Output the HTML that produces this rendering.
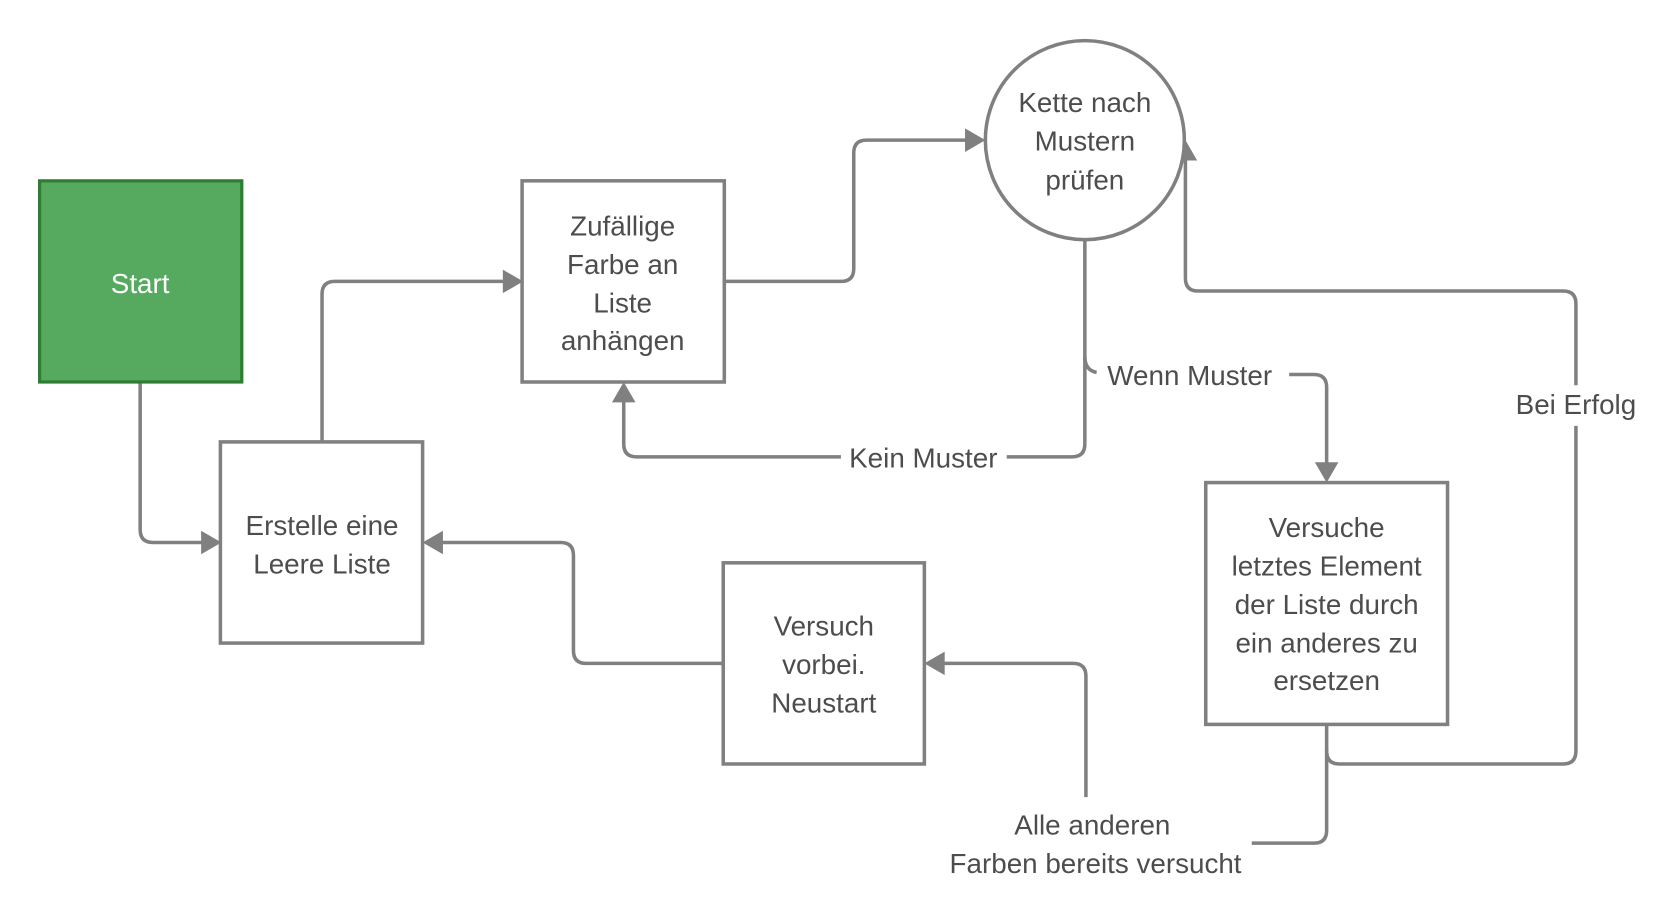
<!DOCTYPE html>
<html><head><meta charset="utf-8"><style>
html,body{margin:0;padding:0;background:#fff;}
svg{display:block;}
text{font-family:"Liberation Sans",sans-serif;font-size:26px;fill:#4d4d4d;text-anchor:middle;dominant-baseline:central;}
</style></head><body>
<svg width="1669" height="917" viewBox="0 0 1560 857" preserveAspectRatio="none" xmlns="http://www.w3.org/2000/svg">
<g fill="none" stroke="#808080" stroke-width="3.3" stroke-linejoin="round">
<path d="M131 357 V495 Q131 507 143 507 H190"/>
<path d="M301 413 V275 Q301 263 313 263 H472"/>
<path d="M677 263 H786 Q798 263 798 251 V143 Q798 131 810 131 H904"/>
<path d="M1014 225 V415 Q1014 427 1002 427 H941"/>
<path d="M786 427 H595 Q583 427 583 415 V374"/>
<path d="M1014 333 Q1014 346 1025 348"/>
<path d="M1205 350 H1228 Q1240 350 1240 362 V434"/>
<path d="M1240 677 V702 Q1240 714 1252 714 H1461 Q1473 714 1473 702 V398"/>
<path d="M1473 360 V284 Q1473 272 1461 272 H1120 Q1108 272 1108 260 V148"/>
<path d="M1240 700 V776 Q1240 788 1228 788 H1170"/>
<path d="M1015 745 V632 Q1015 620 1003 620 H881"/>
<path d="M676 620 H548 Q536 620 536 608 V519 Q536 507 524 507 H412"/>
</g>
<g fill="#808080">
<polygon points="207,507 188,496 188,518"/>
<polygon points="489,263 470,252 470,274"/>
<polygon points="921,131 902,120 902,142"/>
<polygon points="583,357 572,376 594,376"/>
<polygon points="1240,451 1229,432 1251,432"/>
<polygon points="1108,131 1097,150 1119,150"/>
<polygon points="864,620 883,609 883,631"/>
<polygon points="395,507 414,496 414,518"/>
</g>
<rect x="37" y="169" width="189" height="188" fill="#55aa60" stroke="#2e7d32" stroke-width="3"/>
<text x="131" y="265" style="fill:#fff">Start</text>
<g fill="#fff" stroke="#808080" stroke-width="3.3">
<rect x="206" y="413" width="189" height="188"/>
<rect x="488" y="169" width="189" height="188"/>
<circle cx="1014" cy="131" r="93"/>
<rect x="676" y="526" width="188" height="188"/>
<rect x="1127" y="451" width="226" height="226"/>
</g>
<text x="301" y="491">Erstelle eine</text><text x="301" y="527">Leere Liste</text>
<text x="582" y="211">Zufällige</text><text x="582" y="247">Farbe an</text><text x="582" y="283">Liste</text><text x="582" y="318">anhängen</text>
<text x="1014" y="96">Kette nach</text><text x="1014" y="132">Mustern</text><text x="1014" y="168">prüfen</text>
<text x="770" y="585">Versuch</text><text x="770" y="621">vorbei.</text><text x="770" y="657">Neustart</text>
<text x="1240" y="493">Versuche</text><text x="1240" y="529">letztes Element</text><text x="1240" y="565">der Liste durch</text><text x="1240" y="601">ein anderes zu</text><text x="1240" y="636">ersetzen</text>
<text x="863" y="428">Kein Muster</text>
<text x="1112" y="351">Wenn Muster</text>
<text x="1473" y="378">Bei Erfolg</text>
<text x="1021" y="771">Alle anderen</text>
<text x="1024" y="807">Farben bereits versucht</text>
</svg>
</body></html>
